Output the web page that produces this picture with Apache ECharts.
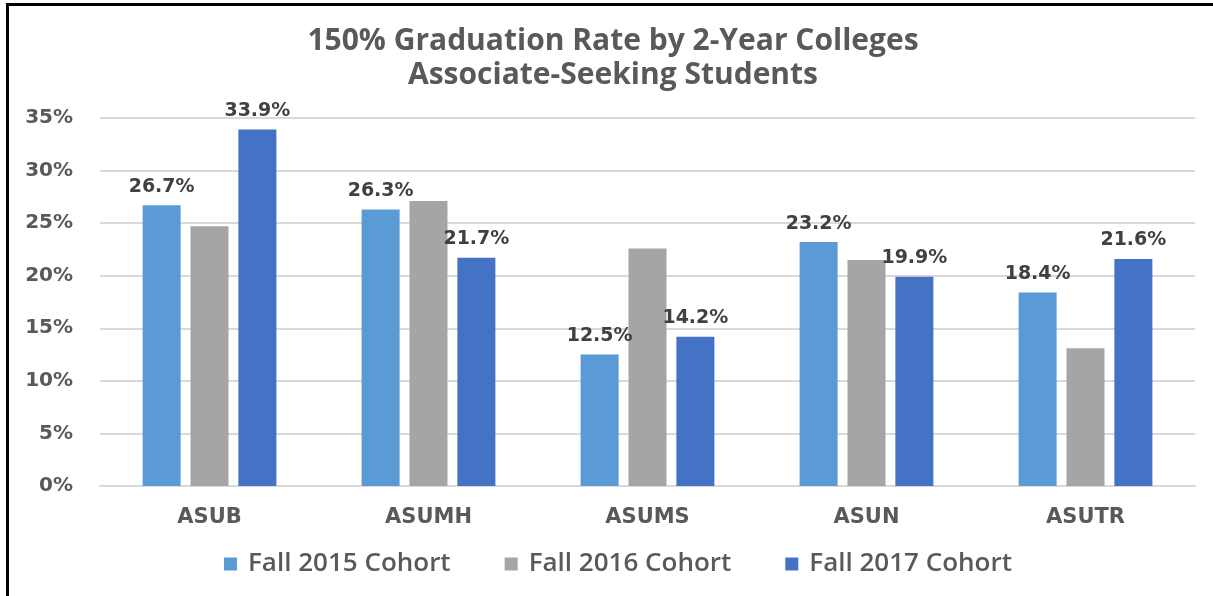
<!DOCTYPE html>
<html>
<head>
<meta charset="utf-8">
<title>150% Graduation Rate by 2-Year Colleges</title>
<script src="https://cdn.jsdelivr.net/npm/echarts@6/dist/echarts.min.js"></script>
<style>
  html, body { margin: 0; padding: 0; background: #fff; }
  #main { position: absolute; left: 0; top: 0; width: 1213px; height: 596px; }
  #frame {
    position: absolute; left: 6px; top: 3px; width: 1207px; height: 593px;
    border-left: 3px solid #000; border-top: 3px solid #000;
    box-sizing: border-box; pointer-events: none;
  }
</style>
</head>
<body>
<div id="main"></div>
<div id="frame"></div>
<script>
// colleges on the x axis
const colleges = ['ASUB', 'ASUMH', 'ASUMS', 'ASUN', 'ASUTR'];
// graduation rate (%) per cohort
const fall2015 = [26.7, 26.3, 12.5, 23.2, 18.4];
const fall2016 = [24.7, 27.1, 22.6, 21.5, 13.1];
const fall2017 = [33.9, 21.7, 14.2, 19.9, 21.6];
const cohortNames = ['Fall 2015 Cohort', 'Fall 2016 Cohort', 'Fall 2017 Cohort'];

const chart = echarts.init(document.getElementById('main'));

const labelStyle = {
  show: true,
  position: 'top',
  distance: 9,
  fontFamily: 'DejaVu Sans',
  fontWeight: 'bold',
  fontSize: 19,
  color: '#404040',
  formatter: p => p.value.toFixed(1) + '%'
};

const option = {
  animation: false,
  title: {
    text: '150% Graduation Rate by 2-Year Colleges\nAssociate-Seeking Students',
    left: 613,
    top: 24,
    padding: 0,
    textAlign: 'center',
    textStyle: {
      fontFamily: 'Open Sans',
      fontWeight: 'bold',
      fontSize: 30,
      lineHeight: 34,
      color: '#595959'
    }
  },
  legend: {
    data: cohortNames,
    bottom: 19,
    left: 224,
    padding: 0,
    itemWidth: 13,
    itemHeight: 13,
    itemGap: 54,
    icon: 'rect',
    textStyle: {
      fontFamily: 'Open Sans',
      fontWeight: 600,
      fontSize: 26,
      color: '#595959',
      padding: [0, 0, 0, 6]
    }
  },
  grid: { left: 100, right: 18, top: 118, bottom: 110 },
  xAxis: {
    type: 'category',
    data: colleges,
    axisLine: { lineStyle: { color: '#d9d9d9', width: 2 } },
    axisTick: { show: false },
    axisLabel: {
      margin: 21,
      fontFamily: 'DejaVu Sans',
      fontWeight: 'bold',
      fontSize: 21,
      color: '#595959'
    }
  },
  yAxis: {
    type: 'value',
    min: 0,
    max: 35,
    interval: 5,
    axisLine: { show: false },
    axisTick: { show: false },
    splitLine: { lineStyle: { color: '#d9d9d9', width: 2 } },
    axisLabel: {
      margin: 27,
      fontFamily: 'DejaVu Sans',
      fontWeight: 'bold',
      fontSize: 20,
      color: '#595959',
      formatter: '{value}%'
    }
  },
  series: [
    {
      name: cohortNames[0], type: 'bar', data: fall2015,
      barWidth: 38, barGap: '26%',
      itemStyle: { color: '#5b9bd5' },
      label: labelStyle
    },
    {
      name: cohortNames[1], type: 'bar', data: fall2016,
      barWidth: 38, barGap: '26%',
      itemStyle: { color: '#a5a5a5' }
    },
    {
      name: cohortNames[2], type: 'bar', data: fall2017,
      barWidth: 38, barGap: '26%',
      itemStyle: { color: '#4472c4' },
      label: labelStyle
    }
  ]
};

chart.setOption(option);
</script>
</body>
</html>
